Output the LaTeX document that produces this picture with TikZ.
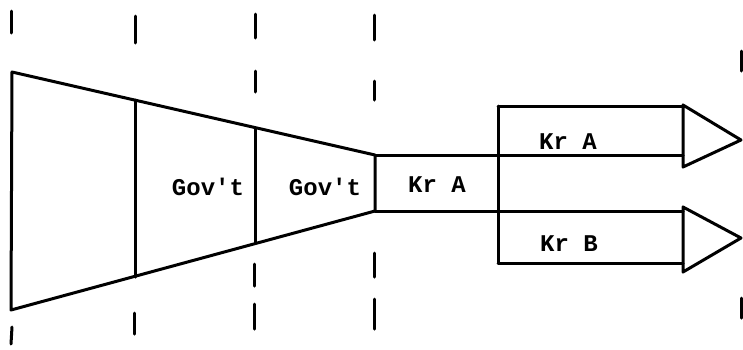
\documentclass[tikz,border=0pt]{standalone}
\usepackage{fontspec}
\setmonofont{Liberation Mono}
\begin{document}
\begin{tikzpicture}[x=1pt,y=-1pt,
  outline/.style={line width=3pt,line join=round,line cap=round},
  tick/.style={line width=3pt,line cap=round},
  lbl/.style={font=\ttfamily\bfseries\fontsize{24}{24}\selectfont,inner sep=0pt}]
\useasboundingbox (0,0) rectangle (743,349);
% funnel corners
\coordinate (tl) at (12,72);
\coordinate (bl) at (11,310);
\coordinate (t1) at (135,100);
\coordinate (b1) at (135,277);
\coordinate (t2) at (255,128);
\coordinate (b2) at (255,243);
\coordinate (t3) at (375,155);
\coordinate (b3) at (375,211);
\coordinate (ua) at (498,106);
\coordinate (lb) at (498,263);
\coordinate (ut) at (683,106);
\coordinate (ub) at (683,155);
\coordinate (lt) at (683,211);
\coordinate (lbb) at (683,263);
\draw[outline] (t3) -- (tl) -- (bl) -- (b3) -- cycle;
\draw[outline] (t1) -- (b1);
\draw[outline] (t2) -- (b2);
% arrows
\draw[outline] (t3) -- (ub);
\draw[outline] (b3) -- (lt);
\draw[outline] (ua) -- (lb);
\draw[outline] (ua) -- (ut);
\draw[outline] (lb) -- (lbb);
\draw[outline] (683,105) -- (741,140) -- (683,167) -- cycle;
\draw[outline] (683,207) -- (741,238) -- (683,272) -- cycle;
% dashed guide marks
\draw[tick] (11,11) -- (11,33);
\draw[tick] (12,327) -- (11,344);
\draw[tick] (135,16) -- (135,43);
\draw[tick] (134,313) -- (134,334);
\draw[tick] (255,14) -- (255,38);
\draw[tick] (255,71) -- (255,92);
\draw[tick] (254,264) -- (254,286);
\draw[tick] (254,304) -- (254,329);
\draw[tick] (374,15) -- (374,40);
\draw[tick] (374,81) -- (374,100);
\draw[tick] (374,253) -- (374,277);
\draw[tick] (374,299) -- (374,329);
\draw[tick] (741,51) -- (741,71);
\draw[tick] (741,298) -- (741,318);
% labels
\node[lbl] (g1) at (208,187) {Gov't};
\node[lbl] (g2) at (325,187) {Gov't};
\node[lbl] (ka) at (437,185) {Kr A};
\node[lbl] (ka2) at (568,142) {Kr A};
\node[lbl] (kb) at (569,244) {Kr B};
\end{tikzpicture}
\end{document}
